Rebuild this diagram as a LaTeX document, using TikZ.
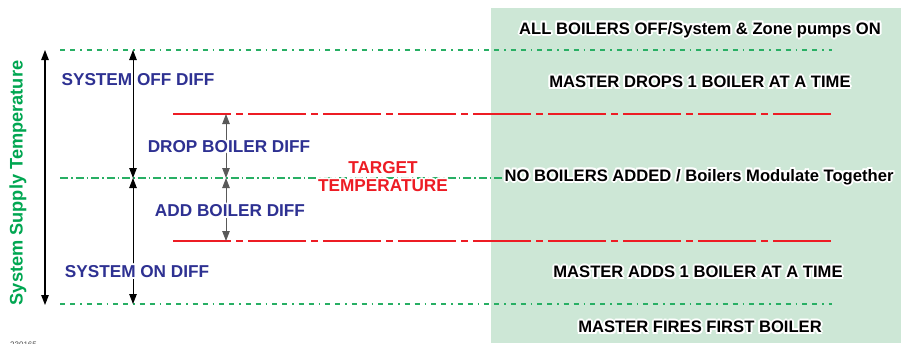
\documentclass[tikz,border=0pt]{standalone}
\usepackage{fontspec}
\setmainfont{Liberation Sans}
\usetikzlibrary{arrows.meta,calc}
\definecolor{panelgreen}{RGB}{205,231,214}
\definecolor{lblue}{RGB}{46,49,146}
\definecolor{lred}{RGB}{237,28,36}
\definecolor{lgreen}{RGB}{0,166,81}
\definecolor{linegreen}{RGB}{40,175,100}
\newcommand\halonode[4]{% #1 style, #2 name, #3 position, #4 text
  \foreach \ang in {0,45,...,315}{\node[#1,text=white] at ($(#3)+(\ang:2)$) {#4};}
  \node[#1] (#2) at (#3) {#4};}
\tikzset{
  rtext/.style={font=\fontsize{16.6}{18}\selectfont\bfseries,text=black,inner sep=0pt},
  btext/.style={font=\fontsize{17.2}{19}\selectfont\bfseries,text=lblue,inner sep=0pt},
  ttext/.style={font=\fontsize{17.2}{19}\selectfont\bfseries,text=lred,inner sep=0pt,align=center},
  gline/.style={linegreen,line width=1.1pt,dash pattern=on 5pt off 5pt on 5pt off 5pt on 1.5pt off 5pt},
  mline/.style={linegreen,line width=1.1pt,dash pattern=on 8pt off 3pt on 1.5pt off 3pt},
  rline/.style={lred,line width=1.1pt,dash pattern=on 58pt off 5pt on 7pt off 5pt},
  tip/.style={{Triangle[width=7.5pt,length=10pt]}-{Triangle[width=7.5pt,length=10pt]}},
  bigarrow/.style={black,line width=1.2pt,tip},
  midarrow/.style={black,line width=0.9pt,tip},
  smallarrow/.style={black!65,line width=0.9pt,tip},
}
\begin{document}
\begin{tikzpicture}[x=1pt,y=-1pt]
\useasboundingbox (0,0) rectangle (901,343);
\fill[panelgreen] (491,8) rectangle (901,343);
% coordinates
\coordinate (gtL) at (60,50);   \coordinate (gtR) at (832,50);
\coordinate (rtL) at (173,114); \coordinate (rtR) at (835,114);
\coordinate (gmL) at (60,178);  \coordinate (gmR) at (505,178);
\coordinate (rbL) at (173,241); \coordinate (rbR) at (835,241);
\coordinate (gbL) at (60,304);  \coordinate (gbR) at (832,304);
\coordinate (a1t) at (45,50);   \coordinate (a1b) at (45,305);
\coordinate (a2t) at (133,50);  \coordinate (a2m) at (133,178); \coordinate (a2b) at (133,304);
\coordinate (a3t) at (226,114); \coordinate (a3m) at (226,178); \coordinate (a3b) at (226,241);
% lines
\draw[gline] (gtL) -- (gtR);
\draw[rline] (rtL) -- (rtR);
\draw[mline] (gmL) -- (gmR);
\draw[rline] (rbL) -- (rbR);
\draw[gline] (gbL) -- (gbR);
% arrows
\draw[bigarrow] (a1t) -- (a1b);
\draw[midarrow] (a2t) -- (a2m);
\draw[midarrow] (a2m) -- (a2b);
\draw[smallarrow] (a3t) -- (a3m);
\draw[smallarrow] (a3m) -- (a3b);
% left rotated label
\node[font=\fontsize{18.2}{20}\selectfont\bfseries,text=lgreen,rotate=90,inner sep=0pt] (axis) at (18,183) {System Supply Temperature};
% blue labels
\halonode{btext}{off}{138,80}{SYSTEM OFF DIFF}
\halonode{btext}{drop}{229,147}{DROP BOILER DIFF}
\halonode{btext}{add}{230,211}{ADD BOILER DIFF}
\halonode{btext}{on}{137,272}{SYSTEM ON DIFF}
% target
\halonode{ttext}{target}{383,176.5}{TARGET\\[-1pt]TEMPERATURE}
% right labels
\halonode{rtext}{r1}{700,30}{ALL BOILERS OFF/System \& Zone pumps ON}
\halonode{rtext}{r2}{700,82}{MASTER DROPS 1 BOILER AT A TIME}
\halonode{rtext}{r3}{699,177}{NO BOILERS ADDED / Boilers Modulate Together}
\halonode{rtext}{r4}{698,272}{MASTER ADDS 1 BOILER AT A TIME}
\halonode{rtext}{r5}{700,327}{MASTER FIRES FIRST BOILER}
% figure number
\node[font=\fontsize{8}{9}\selectfont,text=black!70,inner sep=0pt,anchor=west] (fig) at (10,345) {230165};
\end{tikzpicture}
\end{document}
